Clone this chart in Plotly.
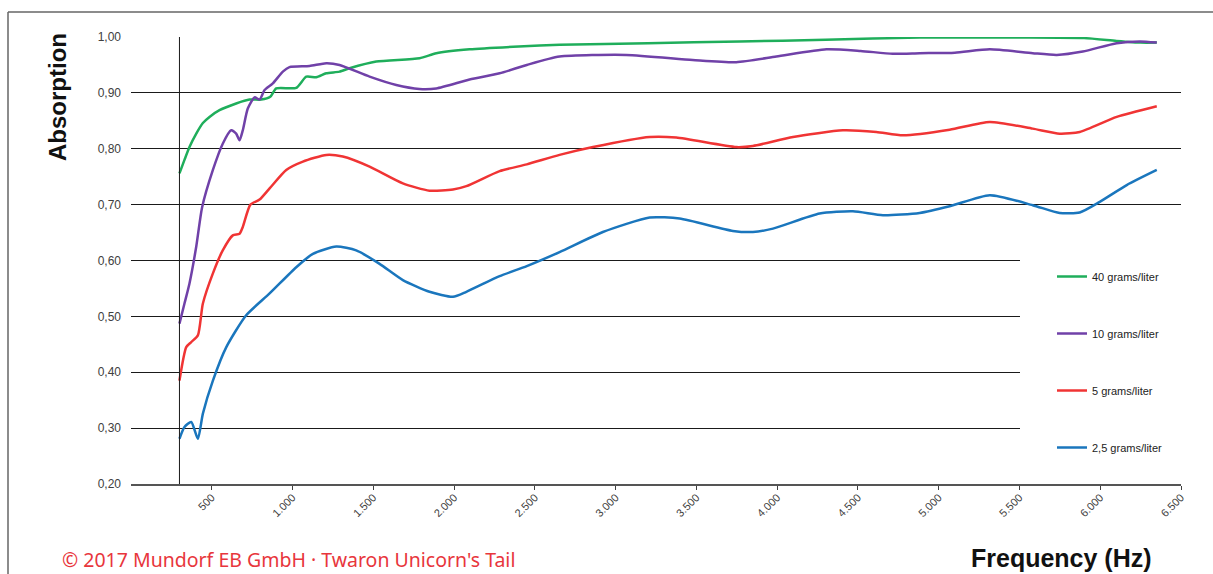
import plotly.graph_objects as go

# ---- data ----
green_freq = [300, 331, 362, 404, 445, 486, 548, 651, 734, 806, 862, 899, 1023, 1085, 1147, 1209, 1291, 1353,
              1518, 1786, 1890, 2096, 2400, 2653, 3200, 3768, 4300, 4882, 5500, 5900, 6100, 6250, 6350]
green_vals = [0.756, 0.780, 0.803, 0.827, 0.846, 0.857, 0.869, 0.881, 0.888, 0.888, 0.893, 0.908, 0.909,
              0.929, 0.928, 0.935, 0.938, 0.944, 0.956, 0.962, 0.971, 0.978, 0.983, 0.986, 0.989, 0.992,
              0.995, 0.999, 0.999, 0.998, 0.993, 0.990, 0.990]

purple_freq = [300, 331, 362, 404, 440, 507, 568, 620, 651, 672, 692, 723, 765, 796, 827, 878, 940, 981, 1105,
               1209, 1291, 1477, 1642, 1786, 1890, 2096, 2282, 2450, 2653, 3066, 3477, 3747, 3995, 4305,
               4517, 4715, 4882, 5100, 5316, 5582, 5731, 5892, 6102, 6245, 6350]
purple_vals = [0.487, 0.523, 0.559, 0.625, 0.695, 0.762, 0.809, 0.833, 0.827, 0.815, 0.833, 0.872, 0.892,
               0.888, 0.905, 0.917, 0.938, 0.946, 0.948, 0.953, 0.950, 0.929, 0.914, 0.907, 0.908, 0.924,
               0.935, 0.950, 0.965, 0.968, 0.959, 0.955, 0.965, 0.978, 0.975, 0.970, 0.971, 0.972, 0.978,
               0.971, 0.968, 0.974, 0.989, 0.992, 0.990]

red_freq = [300, 342, 373, 414, 445, 507, 568, 630, 672, 692, 739, 796, 858, 961, 1064, 1209, 1311, 1477,
            1683, 1848, 1993, 2076, 2282, 2450, 2653, 2860, 3211, 3376, 3747, 3850, 4098, 4407, 4614, 4779,
            5068, 5316, 5582, 5749, 5873, 6102, 6350]
red_vals = [0.385, 0.445, 0.454, 0.466, 0.523, 0.577, 0.618, 0.645, 0.648, 0.660, 0.700, 0.709, 0.729,
            0.762, 0.777, 0.789, 0.786, 0.768, 0.738, 0.725, 0.727, 0.733, 0.760, 0.772, 0.789, 0.803,
            0.821, 0.820, 0.803, 0.805, 0.821, 0.833, 0.830, 0.824, 0.834, 0.848, 0.836, 0.827, 0.830,
            0.857, 0.876]

blue_freq = [300, 331, 373, 414, 445, 507, 590, 713, 858, 1023, 1126, 1271, 1394, 1539, 1683, 1848, 1993,
             2076, 2282, 2450, 2653, 2921, 3211, 3396, 3726, 3850, 3974, 4263, 4469, 4655, 4882, 5068,
             5316, 5582, 5749, 5873, 5997, 6164, 6350]
blue_vals = [0.281, 0.302, 0.311, 0.281, 0.326, 0.385, 0.445, 0.502, 0.541, 0.588, 0.612, 0.625, 0.618,
             0.594, 0.565, 0.544, 0.535, 0.544, 0.572, 0.590, 0.615, 0.651, 0.677, 0.675, 0.653, 0.651,
             0.657, 0.684, 0.688, 0.681, 0.685, 0.697, 0.717, 0.699, 0.685, 0.686, 0.705, 0.735, 0.762]

series_names = ["40 grams/liter", "10 grams/liter", "5 grams/liter", "2,5 grams/liter"]
series_colors = ["#1fae5b", "#7041a8", "#f03434", "#1a76bd"]

x_ticks = [500, 1000, 1500, 2000, 2500, 3000, 3500, 4000, 4500, 5000, 5500, 6000, 6500]
y_ticks = [0.2, 0.3, 0.4, 0.5, 0.6, 0.7, 0.8, 0.9, 1.0]

# ---- figure ----
fig = go.Figure()
all_series = [(green_freq, green_vals), (purple_freq, purple_vals), (red_freq, red_vals), (blue_freq, blue_vals)]
for i, ((fx, fy), name, col) in enumerate(zip(all_series, series_names, series_colors)):
    fig.add_trace(go.Scatter(x=fx, y=fy, mode="lines", name=name, legendgroup=str(i),
                             line=dict(color=col, width=2.5, shape="spline", smoothing=0.6)))

W, H = 1213, 574
L, R, T, B = 131, 32, 37, 90
pw, ph = W - L - R, H - T - B

def px(xp):
    return (xp - L) / pw

def py(yp):
    return (H - B - yp) / ph

font_fam = "Liberation Sans, Arial, sans-serif"

fig.update_layout(
    width=W, height=H,
    margin=dict(l=L, r=R, t=T, b=B, pad=0),
    paper_bgcolor="white", plot_bgcolor="white",
    separators=",.",
    font=dict(family=font_fam, color="#404040"),
    showlegend=True,
    legend=dict(x=px(1052), y=py(262), xanchor="left", yanchor="top",
                bgcolor="rgba(0,0,0,0)", font=dict(size=11, color="#222222", family=font_fam),
                tracegroupgap=38, itemwidth=30),
    xaxis=dict(range=[0, 6500], tickvals=x_ticks, tickformat=",d", tickangle=-45,
               ticks="outside", ticklen=4, tickcolor="#404040", tickwidth=1,
               showgrid=False, zeroline=False, showline=True, linecolor="#555555", linewidth=1.5,
               ticklabelstandoff=-3,
               tickfont=dict(size=11, color="#404040", family=font_fam)),
    yaxis=dict(range=[0.2, 1.0], tickvals=y_ticks, tickformat=".2f",
               showgrid=True, gridcolor="#1a1a1a", gridwidth=1, zeroline=False,
               showline=False, ticks="", ticklabelstandoff=9,
               tickfont=dict(size=12, color="#404040", family=font_fam)),
    shapes=[
        # white panel behind legend that hides gridlines
        dict(type="rect", xref="paper", yref="paper", x0=px(1020), x1=px(1205), y0=py(475), y1=py(240),
             fillcolor="white", line=dict(width=0), layer="above"),
        # vertical axis crossing at 300 Hz
        dict(type="line", xref="x", yref="y", x0=300, x1=300, y0=0.2, y1=1.0,
             line=dict(color="#1a1a1a", width=1)),
        # outer frame
        dict(type="line", xref="paper", yref="paper", x0=px(8), x1=px(1215), y0=py(12), y1=py(12),
             line=dict(color="#666666", width=1.5)),
        dict(type="line", xref="paper", yref="paper", x0=px(8), x1=px(8), y0=py(12), y1=py(580),
             line=dict(color="#666666", width=1.5)),
    ],
    annotations=[
        dict(text="<b>Absorption</b>", xref="paper", yref="paper", x=px(57), y=py(97),
             xanchor="center", yanchor="middle", textangle=-90, showarrow=False,
             font=dict(size=24, color="#111111", family=font_fam)),
        dict(text="<b>Frequency (Hz)</b>", xref="paper", yref="paper", x=px(1061), y=py(558),
             xanchor="center", yanchor="middle", showarrow=False,
             font=dict(size=25, color="#111111", family=font_fam)),
        dict(text="© 2017 Mundorf EB GmbH · Twaron Unicorn's Tail", xref="paper", yref="paper",
             x=px(60), y=py(559), xanchor="left", yanchor="middle", showarrow=False,
             font=dict(size=19.5, color="#e8363c", family="Noto Sans, Open Sans, sans-serif")),
    ],
)

fig.write_html("out.html", config={"displayModeBar": False},
               post_script="document.body.style.margin='0px';")
